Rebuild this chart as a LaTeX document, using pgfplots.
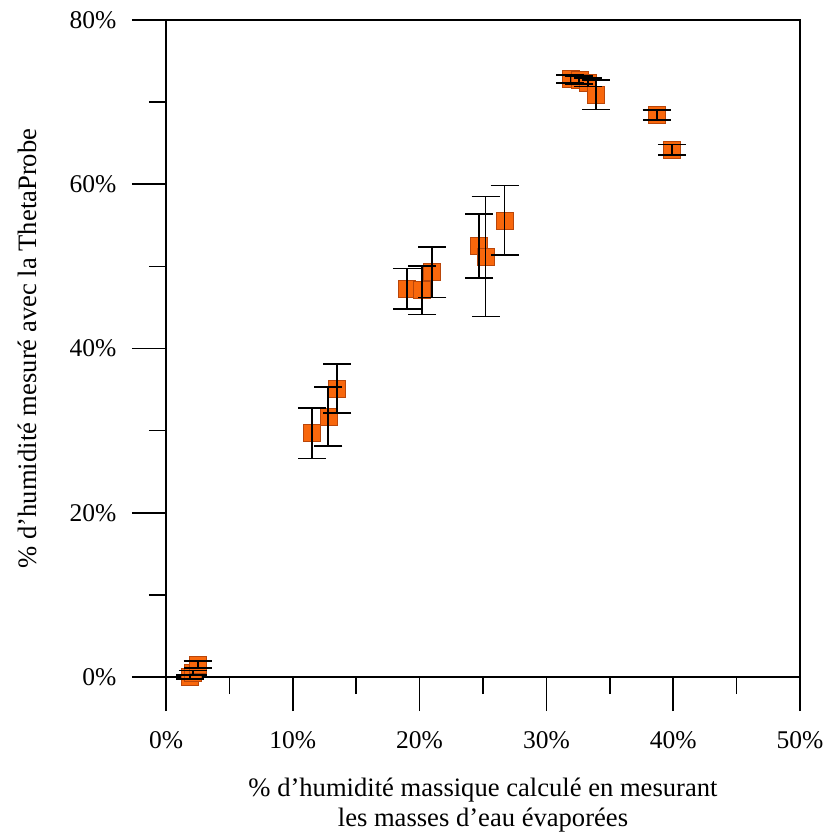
\documentclass[border=0pt]{standalone}
\usepackage{pgfplots}
\pgfplotsset{compat=1.18}
\usepackage{pgfplotstable}
\usepackage{fontspec}
\setmainfont{Liberation Serif}
\definecolor{sqfill}{RGB}{248,103,12}
\definecolor{sqedge}{RGB}{185,70,10}
\pgfplotstableread{
x y ey
1.9 0.0 0.2
2.1 0.5 0.3
2.5 1.5 0.4
11.5 29.7 3.1
12.8 31.7 3.6
13.5 35.1 3.0
19.0 47.3 2.45
20.2 47.1 2.95
21.0 49.3 3.1
24.7 52.5 3.9
25.2 51.2 7.3
26.7 55.6 4.25
31.9 72.8 0.5
32.6 72.7 0.5
33.3 72.4 0.5
33.9 70.9 1.8
38.7 68.4 0.6
39.9 64.2 0.65
}\datatable
\begin{document}
\begin{tikzpicture}
\useasboundingbox (-166pt,-162pt) rectangle (660pt,677pt);
\begin{axis}[
  at={(0,0)}, anchor=south west,
  scale only axis,
  width=634pt, height=657pt,
  xmin=0, xmax=50, ymin=0, ymax=80,
  xtick={0,10,...,50}, minor xtick={5,15,...,45},
  ytick={0,20,...,80}, minor ytick={10,30,50,70},
  xtick pos=bottom, ytick pos=left,
  tick align=outside,
  major tick length=34pt, minor tick length=17pt,
  axis line style={line width=1.6pt},
  every tick/.style={black, line width=1.6pt},
  xticklabel={\pgfmathprintnumber{\tick}\%},
  yticklabel={\pgfmathprintnumber{\tick}\%},
  /pgf/number format/assume math mode=true,
  tick label style={font=\fontsize{25.5}{30}\selectfont},
  label style={font=\fontsize{26.6}{30}\selectfont},
  xticklabel style={yshift=-17pt},
  yticklabel style={xshift=-12pt},
  xlabel={\% d'humidité massique calculé en mesurant\\les masses d'eau évaporées},
  xlabel style={align=center, at={(axis description cs:0.5,-0.1948)}, anchor=center},
  ylabel={\% d'humidité mesuré avec la ThetaProbe},
  ylabel style={at={(axis description cs:-0.2190,0.5)}, anchor=center, rotate=0},
  clip=false, clip marker paths=true,
]
\addplot[only marks, mark=square*, mark size=8.5pt,
  mark options={fill=sqfill, draw=sqedge, line width=0.6pt}] table[x=x,y=y] {\datatable};
\addplot[draw=none, mark=none, forget plot,
  error bars/.cd, y dir=both, y explicit,
  error bar style={draw=black, line width=1.8pt},
  error mark options={draw=black, line width=1.8pt, mark size=14pt, rotate=90}]
  table[x=x, y=y, y error=ey] {\datatable};
\end{axis}
\end{tikzpicture}
\end{document}
